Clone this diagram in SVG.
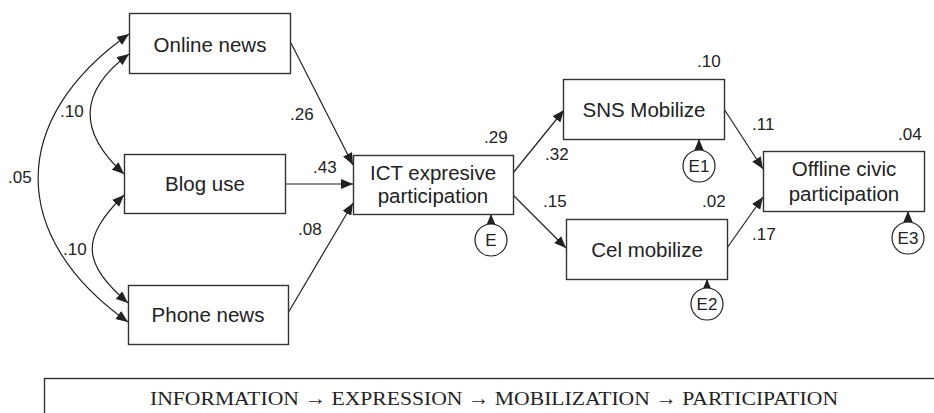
<svg xmlns="http://www.w3.org/2000/svg" width="934" height="413" viewBox="0 0 934 413">
  <style>
    .box { fill: #fff; stroke: #333; stroke-width: 1.4; }
    .err { fill: #fff; stroke: #222; stroke-width: 1.2; }
    .lbl { font-family: "Liberation Sans", Arial, sans-serif; font-size: 20.5px; fill: #222; text-anchor: middle; }
    .num { font-family: "Liberation Sans", Arial, sans-serif; font-size: 17px; fill: #222; }
    .elbl { font-family: "Liberation Sans", Arial, sans-serif; font-size: 17px; fill: #222; text-anchor: middle; }
    .path { fill: none; stroke: #222; stroke-width: 1.2; }
    .caption { font-family: "Liberation Serif", "Times New Roman", serif; font-size: 19.5px; fill: #222; text-anchor: middle; }
  </style>
  <defs>
    <marker id="arrow" viewBox="0 0 12 10" refX="12" refY="5" markerWidth="12" markerHeight="10" markerUnits="userSpaceOnUse" orient="auto-start-reverse">
      <path d="M0,0 L12,5 L0,10 Z" fill="#222"/>
    </marker>
  </defs>

  <rect width="934" height="413" fill="#fff"/>

  <!-- connectors -->
  <g id="connectors">
    <!-- correlations between exogenous variables -->
    <path class="path" d="M129,34 C8,119 8,237 128,322" marker-start="url(#arrow)" marker-end="url(#arrow)"/>
    <path class="path" d="M129,54 C78,92 78,132 124,174" marker-start="url(#arrow)" marker-end="url(#arrow)"/>
    <path class="path" d="M124,195 C81,238 81,262 128,303" marker-start="url(#arrow)" marker-end="url(#arrow)"/>
    <!-- paths to ICT expressive participation -->
    <line class="path" x1="291" y1="43" x2="353" y2="165" marker-end="url(#arrow)"/>
    <line class="path" x1="285" y1="184" x2="353" y2="184" marker-end="url(#arrow)"/>
    <line class="path" x1="288" y1="313" x2="353" y2="203" marker-end="url(#arrow)"/>
    <!-- paths to mobilization -->
    <line class="path" x1="513" y1="173" x2="564" y2="110" marker-end="url(#arrow)"/>
    <line class="path" x1="513" y1="195" x2="566" y2="248" marker-end="url(#arrow)"/>
    <!-- paths to offline participation -->
    <line class="path" x1="724" y1="109" x2="763" y2="169" marker-end="url(#arrow)"/>
    <line class="path" x1="727" y1="248" x2="763" y2="197" marker-end="url(#arrow)"/>
    <!-- error terms -->
    <line class="path" x1="491" y1="224" x2="491" y2="214" marker-end="url(#arrow)"/>
    <line class="path" x1="699" y1="150" x2="699" y2="139" marker-end="url(#arrow)"/>
    <line class="path" x1="707" y1="288" x2="707" y2="279" marker-end="url(#arrow)"/>
    <line class="path" x1="908" y1="222" x2="908" y2="211" marker-end="url(#arrow)"/>
  </g>

  <!-- coefficients -->
  <g id="coefficients">
    <text class="num" x="60" y="117">.10</text>
    <text class="num" x="8" y="183">.05</text>
    <text class="num" x="63" y="255">.10</text>
    <text class="num" x="290" y="120">.26</text>
    <text class="num" x="313" y="173">.43</text>
    <text class="num" x="298" y="235">.08</text>
    <text class="num" x="484" y="143">.29</text>
    <text class="num" x="545" y="160">.32</text>
    <text class="num" x="543" y="207">.15</text>
    <text class="num" x="697" y="67">.10</text>
    <text class="num" x="752" y="130">.11</text>
    <text class="num" x="702" y="207">.02</text>
    <text class="num" x="752" y="240">.17</text>
    <text class="num" x="898" y="140">.04</text>
  </g>

  <g id="online-news">
    <rect class="box" x="129.5" y="13.5" width="161" height="60"/>
    <text class="lbl" x="210" y="52">Online news</text>
  </g>
  <g id="blog-use">
    <rect class="box" x="124.5" y="154.5" width="161" height="59"/>
    <text class="lbl" x="205" y="191">Blog use</text>
  </g>
  <g id="phone-news">
    <rect class="box" x="128.5" y="285.5" width="160" height="59"/>
    <text class="lbl" x="208" y="322">Phone news</text>
  </g>
  <g id="ict-expressive">
    <rect class="box" x="353.5" y="155.5" width="160" height="59"/>
    <text class="lbl" x="433" y="180">ICT expresive</text>
    <text class="lbl" x="433" y="203">participation</text>
  </g>
  <g id="sns-mobilize">
    <rect class="box" x="563.5" y="79.5" width="161" height="60"/>
    <text class="lbl" x="644" y="117">SNS Mobilize</text>
  </g>
  <g id="cel-mobilize">
    <rect class="box" x="566.5" y="219.5" width="161" height="60"/>
    <text class="lbl" x="647" y="257">Cel mobilize</text>
  </g>
  <g id="offline-civic">
    <rect class="box" x="763.5" y="151.5" width="161" height="60"/>
    <text class="lbl" x="844" y="176">Offline civic</text>
    <text class="lbl" x="844" y="201">participation</text>
  </g>

  <g id="e">
    <circle class="err" cx="491" cy="240" r="16"/>
    <text class="elbl" x="491" y="246">E</text>
  </g>
  <g id="e1">
    <circle class="err" cx="699" cy="166" r="16"/>
    <text class="elbl" x="699" y="172">E1</text>
  </g>
  <g id="e2">
    <circle class="err" cx="707" cy="304" r="16"/>
    <text class="elbl" x="707" y="310">E2</text>
  </g>
  <g id="e3">
    <circle class="err" cx="908" cy="238" r="16"/>
    <text class="elbl" x="908" y="244">E3</text>
  </g>

  <g id="caption">
    <rect class="box" x="44.5" y="378.5" width="900" height="50"/>
    <text class="caption" x="494" y="405" textLength="688" lengthAdjust="spacingAndGlyphs">INFORMATION → EXPRESSION → MOBILIZATION → PARTICIPATION</text>
  </g>
</svg>
